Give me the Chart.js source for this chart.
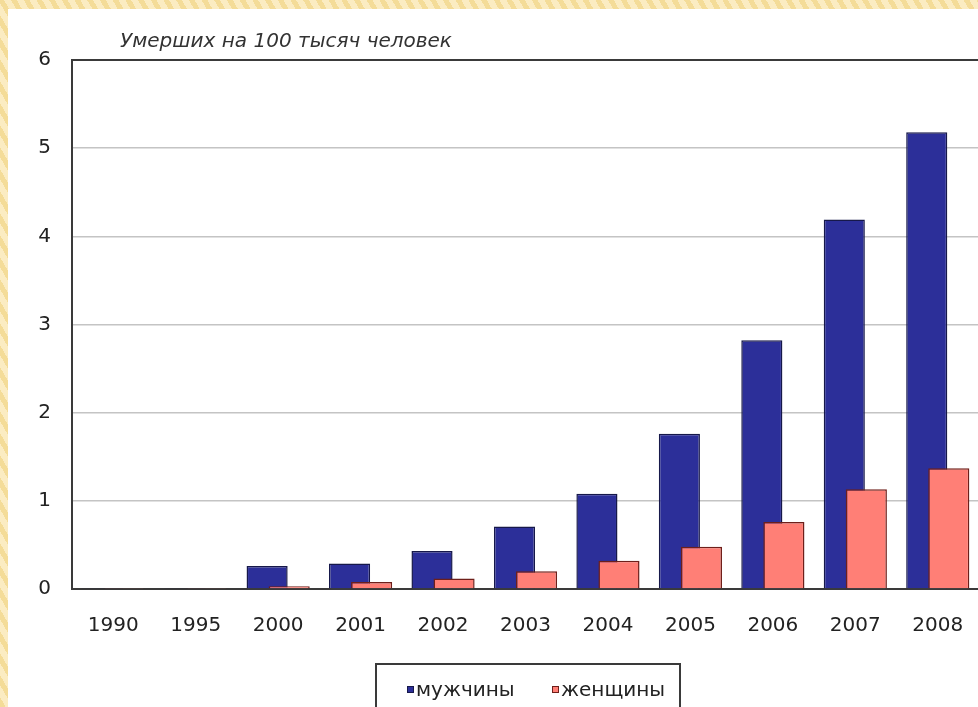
<!DOCTYPE html>
<html>
<head>
<meta charset="utf-8">
<script src="https://cdn.jsdelivr.net/npm/chart.js@4/dist/chart.umd.min.js"></script>
<style>
  html, body { margin: 0; padding: 0; }
  body {
    width: 978px; height: 707px; overflow: hidden; position: relative;
    background: repeating-linear-gradient(60deg, #f4dc98 0 5px, #fbecc2 5px 11px);
    font-family: 'DejaVu Sans', sans-serif;
  }
  .panel { position: absolute; left: 8px; top: 9px; width: 970px; height: 698px; background: #fff; overflow: hidden; }
  .panel canvas { position: absolute; left: 0; top: 0; }
  .title { position: absolute; left: 112px; top: 19px; font-size: 20px; font-style: italic; color: #333; white-space: nowrap; }
  .legend {
    position: absolute; left: 367px; top: 654px; width: 306px; height: 70px;
    border: 2px solid #3a3a3a; box-sizing: border-box; font-size: 20px; color: #222;
  }
  .leg { position: absolute; top: 12px; white-space: nowrap; }
  .leg-sq { display: inline-block; width: 7px; height: 7px; margin-right: 2px; vertical-align: 3px; box-sizing: border-box; }
</style>
</head>
<body>
<div class="panel">
  <canvas id="chart" width="972" height="698"></canvas>
  <div class="title">Умерших на 100 тысяч человек</div>
  <div class="legend" id="legend"></div>
</div>
<script>
var YEARS = ['1990', '1995', '2000', '2001', '2002', '2003', '2004', '2005', '2006', '2007', '2008'];
var MEN = [0.01, 0.01, 0.26, 0.29, 0.43, 0.71, 1.08, 1.76, 2.82, 4.19, 5.18];
var WOMEN = [0.005, 0.005, 0.03, 0.08, 0.12, 0.20, 0.32, 0.48, 0.76, 1.13, 1.37];
var SERIES_NAMES = ['мужчины', 'женщины'];
var Y_MIN = 0, Y_MAX = 6, Y_STEP = 1;

var COLORS = {
  NAVY: '#2c2f99',
  NAVY_EDGE: '#16184a',
  SALMON: '#ff7f76',
  SALMON_EDGE: '#6e1f1a',
  GRID: '#c4c4c4',
  AXIS: '#3a3a3a',
  TEXT: '#222',
};

var tickFont = { family: "'DejaVu Sans', sans-serif", size: 20 };

// Excel-style overlapping bars. Men take slot 'a' (left), women slot 'b' (right)
// and are painted on top (lower order). An empty placeholder in slot 'a' with the
// lowest order keeps slot 'a' first in the sorted list.
var barShape = { categoryPercentage: 0.535, barPercentage: 1.864 };
var emptySlot = YEARS.map(function () { return null; });

new Chart(document.getElementById('chart'), {
  type: 'bar',
  data: {
    labels: YEARS,
    datasets: [
      Object.assign({ label: SERIES_NAMES[0], data: MEN, stack: 'a', order: 0,
        backgroundColor: COLORS.NAVY, borderColor: COLORS.NAVY_EDGE, borderWidth: 1.5 }, barShape),
      Object.assign({ label: SERIES_NAMES[1], data: WOMEN, stack: 'b', order: -1,
        backgroundColor: COLORS.SALMON, borderColor: COLORS.SALMON_EDGE, borderWidth: 1.5 }, barShape),
      Object.assign({ label: '', data: emptySlot, stack: 'a', order: -2 }, barShape),
    ],
  },
  options: {
    responsive: false,
    animation: false,
    layout: { padding: { top: 51, right: 1, bottom: 58, left: 0 } },
    plugins: { legend: { display: false }, tooltip: { enabled: false } },
    scales: {
      x: {
        grid: { display: false, drawTicks: false },
        border: { display: true, color: COLORS.AXIS, width: 2 },
        ticks: { color: COLORS.TEXT, font: tickFont, padding: 25, maxRotation: 0, autoSkip: false },
        afterFit: function (axis) {
          axis.height = 60;
          // the plot runs off the right edge in the original, no room kept for the last label
          axis.paddingLeft = 0;
          axis.paddingRight = 0;
        },
      },
      y: {
        stacked: false,
        min: Y_MIN,
        max: Y_MAX,
        grid: {
          drawTicks: false,
          color: function (c) { return c.tick && c.tick.value === Y_MAX ? COLORS.AXIS : COLORS.GRID; },
          lineWidth: function (c) { return c.tick && c.tick.value === Y_MAX ? 2 : 1.5; },
        },
        border: { display: true, color: COLORS.AXIS, width: 2 },
        ticks: { stepSize: Y_STEP, color: COLORS.TEXT, font: tickFont, padding: 21 },
        afterFit: function (axis) { axis.width = 64; },
      },
    },
  },
});

// legend in a framed box below the axis, like the original
var legendItems = [
  { name: SERIES_NAMES[0], fill: COLORS.NAVY, edge: COLORS.NAVY_EDGE, left: 30 },
  { name: SERIES_NAMES[1], fill: COLORS.SALMON, edge: COLORS.SALMON_EDGE, left: 175 },
];
document.getElementById('legend').innerHTML = legendItems.map(function (it) {
  return '<span class="leg" style="left:' + it.left + 'px"><span class="leg-sq" style="background:' + it.fill +
    ';border:1px solid ' + it.edge + '"></span>' + it.name + '</span>';
}).join('');
</script>
</body>
</html>
